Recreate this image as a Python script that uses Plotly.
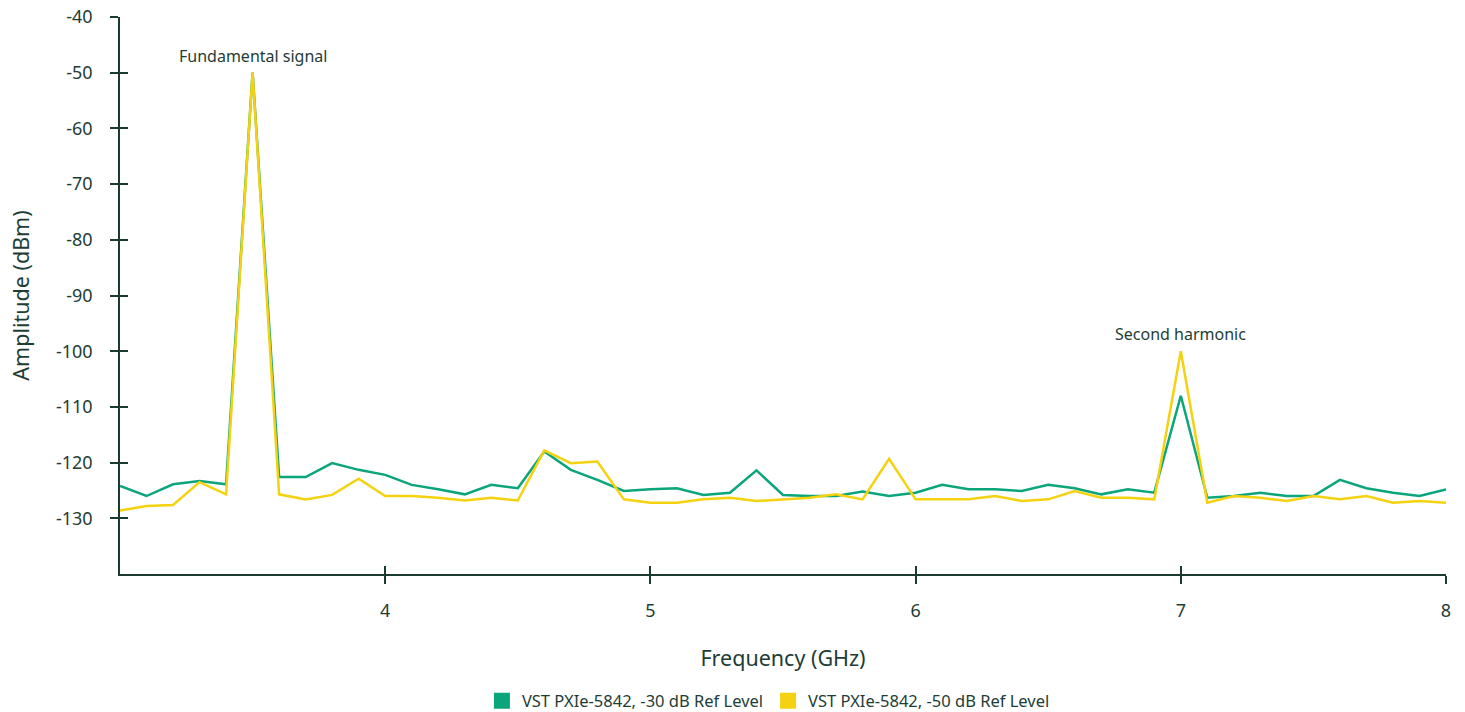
import plotly.graph_objects as go

# Frequency grid (GHz), 0.1 GHz steps from 3.0 to 8.0
freq_ghz = [round(3.0 + 0.1 * i, 1) for i in range(51)]

ref_30db = [
    -124.2, -126.0, -123.9, -123.3, -123.9, -50.0, -122.6, -122.6, -120.1, -121.3,
    -122.2, -124.0, -124.8, -125.7, -124.0, -124.6, -118.0, -121.3, -123.1, -125.1,
    -124.8, -124.6, -125.8, -125.4, -121.4, -125.8, -126.0, -126.0, -125.2, -126.0,
    -125.4, -124.0, -124.8, -124.8, -125.1, -124.0, -124.6, -125.7, -124.8, -125.4,
    -108.0, -126.3, -126.0, -125.4, -126.0, -126.0, -123.1, -124.6, -125.4, -126.0,
    -124.8,
]

ref_50db = [
    -128.6, -127.8, -127.6, -123.5, -125.7, -50.0, -125.7, -126.6, -125.8, -122.9,
    -126.0, -126.0, -126.3, -126.8, -126.3, -126.8, -117.8, -120.1, -119.8, -126.6,
    -127.2, -127.2, -126.6, -126.3, -126.9, -126.6, -126.3, -125.7, -126.6, -119.3,
    -126.6, -126.6, -126.6, -126.0, -126.9, -126.6, -125.1, -126.3, -126.3, -126.6,
    -100.0, -127.2, -126.0, -126.3, -126.9, -126.0, -126.6, -126.0, -127.2, -126.9,
    -127.2,
]

series_names = ["VST PXIe-5842, -30 dB Ref Level", "VST PXIe-5842, -50 dB Ref Level"]
series_colors = ["#0aa57a", "#f5d20f"]

y_ticks = [-40, -50, -60, -70, -80, -90, -100, -110, -120, -130]
y_tick_text = [str(v) for v in y_ticks]  # plain hyphen minus signs
x_ticks = [4, 5, 6, 7, 8]

peak_labels = [("Fundamental signal", 3.5, -50.0), ("Second harmonic", 7.0, -100.0)]

AXIS_COLOR = "#1c3b30"
TEXT_COLOR = "#1e3d36"
FONT = "Noto Sans, Open Sans, sans-serif"

fig = go.Figure()

for name, values, color in zip(series_names, [ref_30db, ref_50db], series_colors):
    fig.add_trace(go.Scatter(
        x=freq_ghz, y=values, mode="lines", name=name,
        line=dict(color=color, width=2.5), showlegend=False,
    ))
    # square swatch for the legend
    fig.add_trace(go.Scatter(
        x=[None], y=[None], mode="markers", name=name,
        marker=dict(symbol="square", size=16, color=color),
    ))

# invisible trace on the overlaid axes that draw the inner half of each tick
fig.add_trace(go.Scatter(x=[3, 8], y=[-140, -40], xaxis="x2", yaxis="y2",
                         mode="markers", marker=dict(opacity=0), showlegend=False,
                         hoverinfo="skip"))

for text, fx, fy in peak_labels:
    fig.add_annotation(x=fx, y=fy, text=text, showarrow=False, yanchor="bottom",
                       yshift=4, font=dict(size=16, color=TEXT_COLOR, family=FONT))

axis_common = dict(showgrid=False, zeroline=False, showline=True, linecolor=AXIS_COLOR,
                   linewidth=1.5, tickcolor=AXIS_COLOR, tickwidth=1.5, automargin=False)

fig.update_layout(
    width=1465, height=712,
    margin=dict(l=120, r=19, t=17, b=138, autoexpand=False),
    paper_bgcolor="white", plot_bgcolor="white",
    font=dict(family=FONT, color=TEXT_COLOR),
    xaxis=dict(range=[3, 8], tickvals=x_ticks, ticks="outside", ticklen=8,
               ticklabelstandoff=12, tickfont=dict(size=18, color=TEXT_COLOR),
               title=dict(text="Frequency (GHz)", font=dict(size=21.5, color=TEXT_COLOR),
                          standoff=30),
               **axis_common),
    yaxis=dict(range=[-140, -40], tickvals=y_ticks, ticktext=y_tick_text,
               ticks="outside", ticklen=8, ticklabelstandoff=14,
               tickfont=dict(size=18, color=TEXT_COLOR),
               title=dict(text="Amplitude (dBm)", font=dict(size=21.5, color=TEXT_COLOR),
                          standoff=20),
               **axis_common),
    xaxis2=dict(range=[3, 8], tickvals=x_ticks, ticks="inside", ticklen=8,
                showticklabels=False, overlaying="x", anchor="y2", **axis_common),
    yaxis2=dict(range=[-140, -40], tickvals=y_ticks, ticks="inside", ticklen=8,
                showticklabels=False, overlaying="y", anchor="x2", **axis_common),
    legend=dict(orientation="h", x=0.489, xanchor="center",
                yref="container", y=0.0155, yanchor="middle",
                font=dict(size=16.5, color=TEXT_COLOR), itemwidth=30),
)

fig.write_html("out.html")
